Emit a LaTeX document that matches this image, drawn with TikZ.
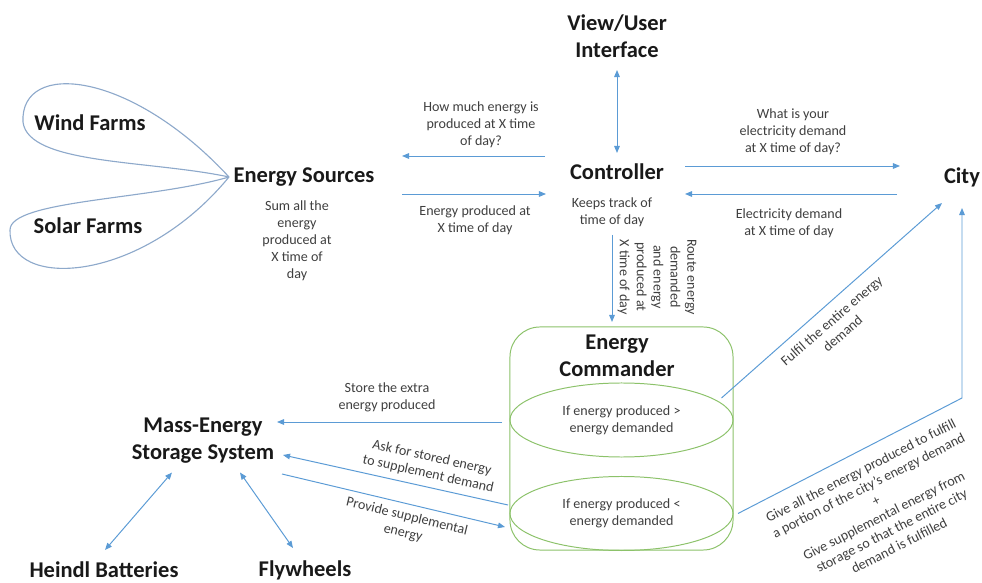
\documentclass[tikz,border=0pt]{standalone}
\usepackage{fontspec}
\setmainfont{Carlito}
\usetikzlibrary{calc,arrows.meta,shapes.geometric}
\definecolor{flowblue}{HTML}{5B9BD5}
\definecolor{petalblue}{HTML}{8EA9CB}
\definecolor{cmdgreen}{HTML}{8CC26A}
\definecolor{notegray}{HTML}{3F3F3F}
\tikzset{
    x=0.025cm, y=0.025cm, % one unit is one pixel of the sketch
    >={Triangle[length=5pt,width=4pt]}, % small filled heads
    flow/.style={color=flowblue, line width=0.7pt}, % the blue connectors
    title/.style={font=\fontsize{16}{19.2}\selectfont\bfseries, text=black!90, align=center, inner sep=0pt},
    note/.style={font=\fontsize{10}{12}\selectfont, text=notegray, align=center, inner sep=0pt},
    petal/.style={draw=petalblue, line width=0.8pt},
    cond/.style={ellipse, draw=cmdgreen, line width=0.7pt, inner sep=0pt,
        minimum width=5.575cm, minimum height=1.85cm, note},
}

\begin{document}
\begin{tikzpicture}
  \useasboundingbox (0,0) rectangle (982,-583);

  % the main blocks
  \node[title] (view)  at (617,-36)  {View/User\\Interface};
  \node[title] (ctrl)  at (617,-172) {Controller};
  \node[note]  (keeps) at (612,-212) {Keeps track of\\time of day};
  \node[title] (city)  at (962,-177) {City};
  \node[title] (src)   at (304,-177) {Energy Sources};
  \node[note]  (sum)   at (297,-241) {Sum all the\\energy\\produced at\\X time of\\day};
  \node[title] (wind)  at (90,-123)  {Wind Farms};
  \node[title] (solar) at (88,-226)  {Solar Farms};
  \node[title] (mess)  at (203,-441) {Mass-Energy\\Storage System};
  \node[title] (bat)   at (104,-570) {Heindl Batteries};
  \node[title] (fly)   at (305,-570) {Flywheels};

  % the two petals of the sources
  \coordinate (hub) at (229,-177);
  \draw[petal] (hub) .. controls (130,-70) and (20,-60) .. (23,-122)
               .. controls (28,-165) and (150,-160) .. (hub);
  \draw[petal] (hub) .. controls (150,-200) and (10,-200) .. (10,-230)
               .. controls (8,-290) and (140,-285) .. (hub);

  % energy commander
  \node[draw=cmdgreen, line width=0.7pt, rounded corners=0.75cm,
        minimum width=5.575cm, minimum height=5.575cm] (cmd) at (621.5,-438.5) {};
  \node[title] (cmdtitle) at (617,-356) {Energy\\Commander};
  \node[cond] (gt) at (621.5,-420)   {If energy produced >\\energy demanded};
  \node[cond] (lt) at (621.5,-513.5) {If energy produced <\\energy demanded};

  % connectors
  \path[flow, <->]
    ($(view)+(0,-34)$) edge ($(ctrl)+(0,19)$)
    ($(mess)+(-31,-31.5)$) edge ($(bat)+(1,20)$)
    ($(mess)+(37,-31.5)$) edge ($(fly)+(-12,22)$);
  \path[flow, ->]
    ($(ctrl)+(-72,16)$) edge ($(src)+(98,21)$)
    ($(src)+(98,-17)$) edge ($(ctrl)+(-71,-22)$)
    ($(ctrl)+(68,6)$) edge ($(city)+(-62,11)$)
    ($(city)+(-65,-17)$) edge ($(ctrl)+(68,-22)$)
    ($(keeps)+(0,-23)$) edge ($(cmd)+(-9.5,116.5)$)
    ($(gt)+(-119.5,-2)$) edge ($(mess)+(74,19)$)
    ($(lt)+(-113.5,8.5)$) edge ($(mess)+(80,-14)$)
    ($(mess)+(79,-33)$) edge ($(lt)+(-116.5,-13.5)$)
    ($(gt)+(100,22)$) edge ($(city)+(-20,-26)$);
  \draw[flow, ->] ($(lt)+(116.5,0)$) -- ($(city)+(0,-221)$) -- ($(city)+(0,-31)$);

  % connector labels
  \node[note] (qlab) at (481,-125) {How much energy is\\produced at X time\\of day?};
  \node[note] (rlab) at (475,-220) {Energy produced at\\X time of day};
  \node[note] (wlab) at (793,-132) {What is your\\electricity demand\\at X time of day?};
  \node[note] (elab) at (789,-223) {Electricity demand\\at X time of day};
  \node[note, rotate=-90] (rlab2) at (657,-277) {Route energy\\demanded\\and energy\\produced at\\X time of day};
  \node[note] (slab) at (387,-397) {Store the extra\\energy produced};
  \node[note, rotate=-12.5] (alab) at (430,-466) {Ask for stored energy\\to supplement demand};
  \node[note, rotate=-13.5] (plab) at (405,-525) {Provide supplemental\\energy};
  \node[note, rotate=41] (flab) at (837,-327) {Fulfil the entire energy\\demand};
  \node[note, rotate=27] (glab) at (880,-508) {Give all the energy produced to fulfill\\a portion of the city’s energy demand\\+\\Give supplemental energy from\\storage so that the entire city\\demand is fulfilled};
\end{tikzpicture}
\end{document}
